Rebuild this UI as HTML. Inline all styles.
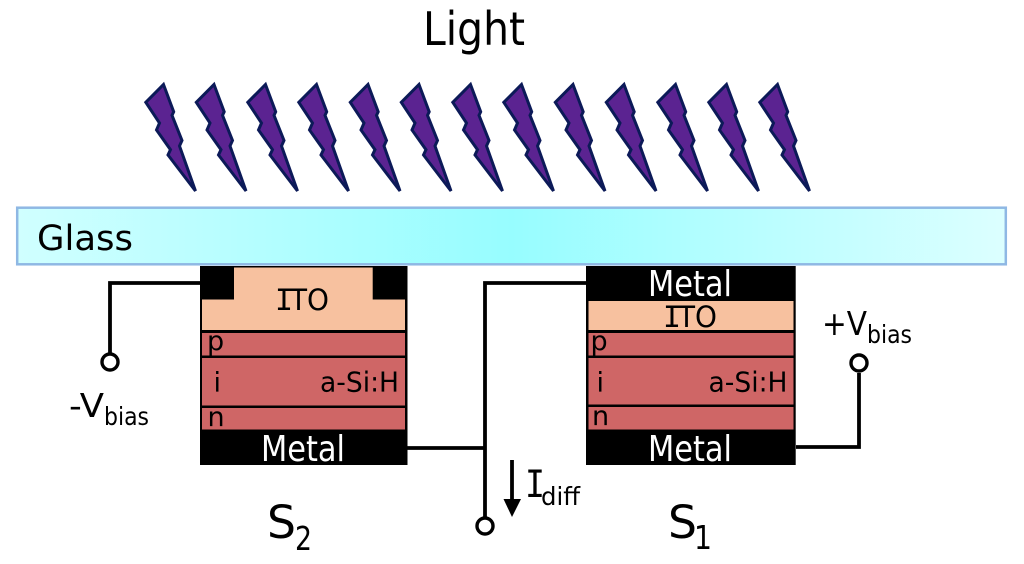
<!DOCTYPE html>
<html><head><meta charset="utf-8"><style>
html,body{margin:0;padding:0;background:#fff}
svg{display:block}
text{font-family:"DejaVu Sans","Liberation Sans",sans-serif;fill:#000}
text.m{font-family:"DejaVu Sans Mono","Liberation Mono",monospace}
</style></head><body>
<svg width="1024" height="564" viewBox="0 0 1024 564" xmlns="http://www.w3.org/2000/svg">
<defs>
<linearGradient id="g" x1="0" x2="1" y1="0" y2="0">
<stop offset="0" stop-color="#d0ffff"/><stop offset="0.5" stop-color="#97fdff"/><stop offset="1" stop-color="#dcffff"/>
</linearGradient>
<polygon id="b" points="163.500,84.500 173.700,111.800 172,115.300 182,140.500 179.500,146 195.500,191 168,155 170.500,149.700 156.500,130 159.500,123 145.800,102.300" fill="#5b2391" stroke="#0c1a58" stroke-width="3" stroke-linejoin="miter" stroke-miterlimit="4"/>
</defs>
<text x="423" y="45" font-size="46" textLength="102" lengthAdjust="spacingAndGlyphs">Light</text>
<use href="#b"/><use href="#b" x="50.5"/><use href="#b" x="102"/><use href="#b" x="153"/><use href="#b" x="204.5"/><use href="#b" x="255.5"/><use href="#b" x="307"/><use href="#b" x="358"/><use href="#b" x="409.5"/><use href="#b" x="460.5"/><use href="#b" x="512"/><use href="#b" x="563"/><use href="#b" x="614"/>
<rect x="17.200" y="207.700" width="988.600" height="56.600" fill="url(#g)" stroke="#8fb8e4" stroke-width="2.500"/>
<text x="37" y="250" font-size="35" textLength="96" lengthAdjust="spacingAndGlyphs">Glass</text>

<g fill="none" stroke="#000" stroke-width="3.800">
<path d="M200 283H110V354"/>
<path d="M407 448H485"/>
<path d="M586 283H485V518"/>
<path d="M796 447H859V373"/>
<path d="M512 460V500"/>
</g>
<polygon points="503.500,499 521,499 512,517" fill="#000"/>
<g fill="#fff" stroke="#000" stroke-width="3.400">
<circle cx="110" cy="362" r="8"/>
<circle cx="485" cy="526" r="8"/>
<circle cx="859" cy="363" r="8"/>
</g>

<!-- S2 -->
<rect x="200" y="266" width="207.500" height="199" fill="#000"/>
<polygon points="234,267.500 372.700,267.500 372.700,299.500 405,299.500 405,330 202,330 202,299.500 234,299.500" fill="#f7c19f"/>
<rect x="202" y="333" width="203" height="22.500" fill="#cf6666"/>
<rect x="202" y="358" width="203" height="47.500" fill="#cf6666"/>
<rect x="202" y="408" width="203" height="21.500" fill="#cf6666"/>
<text class="m" x="275" y="310" font-size="29" textLength="18" lengthAdjust="spacingAndGlyphs">I</text>
<text x="290" y="310" font-size="29" textLength="39" lengthAdjust="spacingAndGlyphs">TO</text>
<text x="207" y="350" font-size="27">p</text>
<text x="213.500" y="391.500" font-size="27">i</text>
<text x="320" y="391.500" font-size="27.500" textLength="79" lengthAdjust="spacingAndGlyphs">a-Si:H</text>
<text x="207.500" y="426" font-size="27">n</text>
<text x="261" y="461" font-size="36" textLength="84" lengthAdjust="spacingAndGlyphs" style="fill:#fff">Metal</text>

<!-- S1 -->
<rect x="586" y="266" width="209.700" height="199" fill="#000"/>
<rect x="588.500" y="301" width="205" height="29" fill="#f7c19f"/>
<rect x="588.500" y="333" width="205" height="22.500" fill="#cf6666"/>
<rect x="588.500" y="358" width="205" height="46.500" fill="#cf6666"/>
<rect x="588.500" y="407" width="205" height="22.500" fill="#cf6666"/>
<text x="648" y="296" font-size="36" textLength="84" lengthAdjust="spacingAndGlyphs" style="fill:#fff">Metal</text>
<text class="m" x="663" y="327" font-size="29" textLength="18" lengthAdjust="spacingAndGlyphs">I</text>
<text x="678" y="327" font-size="29" textLength="39" lengthAdjust="spacingAndGlyphs">TO</text>
<text x="590.500" y="350" font-size="27">p</text>
<text x="596.500" y="391.500" font-size="27">i</text>
<text x="708.500" y="391.500" font-size="27.500" textLength="79" lengthAdjust="spacingAndGlyphs">a-Si:H</text>
<text x="592" y="425" font-size="27">n</text>
<text x="648" y="461" font-size="36" textLength="84" lengthAdjust="spacingAndGlyphs" style="fill:#fff">Metal</text>

<!-- labels -->
<text x="69" y="417" font-size="33" textLength="35" lengthAdjust="spacingAndGlyphs">-V</text>
<text x="104" y="425" font-size="25" textLength="45" lengthAdjust="spacingAndGlyphs">bias</text>
<text x="822" y="335" font-size="33" textLength="45" lengthAdjust="spacingAndGlyphs">+V</text>
<text x="867" y="343" font-size="25" textLength="45" lengthAdjust="spacingAndGlyphs">bias</text>
<text class="m" x="525" y="497" font-size="37" textLength="20" lengthAdjust="spacingAndGlyphs">I</text>
<text x="541" y="505" font-size="25" textLength="39" lengthAdjust="spacingAndGlyphs">diff</text>
<text x="267" y="538" font-size="45" textLength="29" lengthAdjust="spacingAndGlyphs">S</text>
<text x="295" y="550" font-size="33" textLength="17" lengthAdjust="spacingAndGlyphs">2</text>
<text x="668" y="538" font-size="45" textLength="29" lengthAdjust="spacingAndGlyphs">S</text>
<text x="694" y="549" font-size="33" textLength="18" lengthAdjust="spacingAndGlyphs">1</text>
</svg>
</body></html>
